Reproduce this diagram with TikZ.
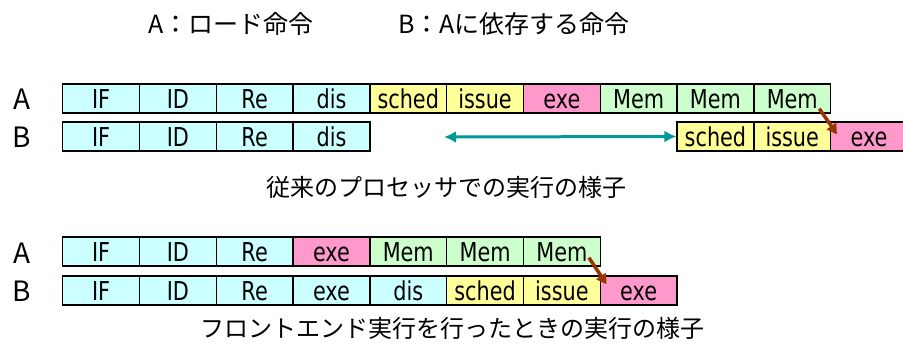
\documentclass[tikz,border=0pt]{standalone}
\usepackage{fontspec}
\newfontfamily\cellfont[FakeStretch=0.8]{DejaVu Sans}
\newfontfamily\jpfont{Noto Sans CJK JP}
\usetikzlibrary{calc,arrows.meta}
\definecolor{cy}{HTML}{CCFFFF}
\definecolor{ye}{HTML}{FFFF99}
\definecolor{pk}{HTML}{FF99CC}
\definecolor{gr}{HTML}{CCFFCC}
\definecolor{teal2}{HTML}{009999}
\definecolor{brown2}{HTML}{993300}
\begin{document}
\begin{tikzpicture}[x=1pt,y=-1pt,
  cell/.style={draw=black, line width=1.3pt, minimum width=76.8pt, minimum height=29pt,
    inner sep=0pt, anchor=west, font=\cellfont\fontsize{26}{26}\selectfont,
    text height=19pt, text depth=0pt},
  jp/.style={font=\jpfont\fontsize{24}{24}\selectfont, inner sep=0pt},
  ttl/.style={font=\jpfont\fontsize{25}{25}\selectfont, inner sep=0pt, anchor=west},
  lbl/.style={font=\jpfont\fontsize{28}{28}\selectfont, inner sep=0pt},
  dep/.style={draw=brown2, line width=3.5pt, -{Triangle[length=10pt,width=11pt]}},
  gap/.style={draw=teal2, line width=3pt, {Latex[length=12pt,width=12pt]}-{Latex[length=12pt,width=12pt]}}]
\useasboundingbox (0,0) rectangle (903,356);
% titles
\node[ttl] (t1) at (148,24) {A：ロード命令};
\node[ttl] (t2) at (398,24) {B：Aに依存する命令};
% top: conventional
\node[lbl] (la1) at (22,99) {A};
\node[lbl] (lb1) at (22,137) {B};
\foreach \t/\c [count=\i] in {IF/cy,ID/cy,Re/cy,dis/cy,sched/ye,issue/ye,exe/pk,Mem/gr,Mem/gr,Mem/gr}
  \node[cell, fill=\c] (a\i) at ({62+76.8*(\i-1)},98.5) {\t};
\foreach \t/\c [count=\i] in {IF/cy,ID/cy,Re/cy,dis/cy}
  \node[cell, fill=\c] (b\i) at ({62+76.8*(\i-1)},136.5) {\t};
\foreach \t/\c [count=\i from 5] in {sched/ye,issue/ye,exe/pk}
  \node[cell, fill=\c] (b\i) at ({62+76.8*(\i+3)},136.5) {\t};
\coordinate (gl) at (444,137);
\draw[gap] (gl) -- (b5.west);
\draw[dep] ($(a10.south east)+(-12,-5)$) -- ($(b7.north west)+(7,13)$);
\node[jp] (cap1) at (446.5,187) {従来のプロセッサでの実行の様子};
% bottom: front-end execution
\node[lbl] (la2) at (22,253) {A};
\node[lbl] (lb2) at (22,291) {B};
\foreach \t/\c [count=\i] in {IF/cy,ID/cy,Re/cy,exe/pk,Mem/gr,Mem/gr,Mem/gr}
  \node[cell, fill=\c] (c\i) at ({62+76.8*(\i-1)},251.5) {\t};
\foreach \t/\c [count=\i] in {IF/cy,ID/cy,Re/cy,exe/cy,dis/cy,sched/ye,issue/ye,exe/pk}
  \node[cell, fill=\c] (d\i) at ({62+76.8*(\i-1)},290.5) {\t};
\draw[dep] ($(c7.south east)+(-12,-9)$) -- ($(d8.north west)+(7,9)$);
\node[jp] (cap2) at (452.5,328) {フロントエンド実行を行ったときの実行の様子};
\end{tikzpicture}
\end{document}
